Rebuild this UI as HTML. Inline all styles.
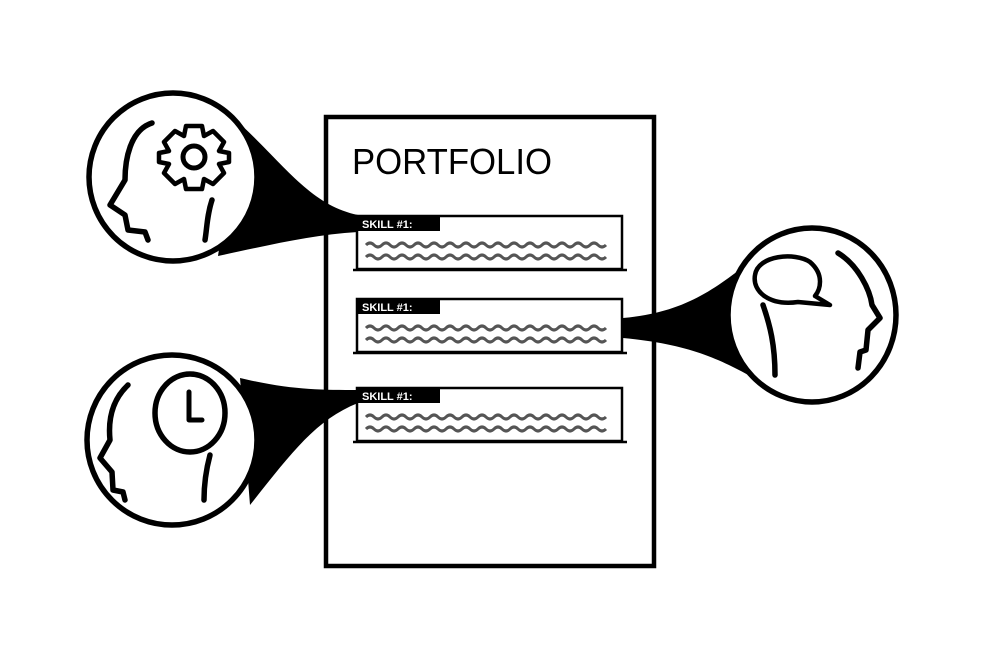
<!DOCTYPE html>
<html><head><meta charset="utf-8"><style>
html,body{margin:0;padding:0;background:#fff;width:1000px;height:667px;overflow:hidden}
</style></head><body>
<svg width="1000" height="667" viewBox="0 0 1000 667" xmlns="http://www.w3.org/2000/svg">
<defs>
<path id="wave" d="M0 0 q4 -4 8 0 t8 0 t8 0 t8 0 t8 0 t8 0 t8 0 t8 0 t8 0 t8 0 t8 0 t8 0 t8 0 t8 0 t8 0 t8 0 t8 0 t8 0 t8 0 t8 0 t8 0 t8 0 t8 0 t8 0 t8 0 t8 0 t8 0 t8 0 t8 0 t8 0" fill="none" stroke="#555" stroke-width="3"/>
</defs>
<rect x="326" y="117" width="328" height="449" fill="#fff" stroke="#000" stroke-width="4.5"/>
<text x="352" y="174" font-family="Liberation Sans, sans-serif" font-size="36" textLength="200" lengthAdjust="spacingAndGlyphs" fill="#000">PORTFOLIO</text>
<!-- cones -->
<path d="M238 122 C285 165 310 205 358 215 L358 232 C310 235 270 245 218 256 Z" fill="#000"/>
<path d="M240 378 C290 390 320 390 358 390 L358 403 C315 420 290 455 250 505 Z" fill="#000"/>
<path d="M762 252 C720 285 690 312 623 318 L623 338 C700 345 730 365 772 388 Z" fill="#000"/>
<g stroke="#000" stroke-width="2.5" fill="none">
<rect x="357" y="216" width="265" height="53"/>
<rect x="357" y="299" width="265" height="53"/>
<rect x="357" y="388" width="265" height="53"/>
<line x1="353" y1="270" x2="627" y2="270"/>
<line x1="353" y1="353" x2="627" y2="353"/>
<line x1="353" y1="442" x2="627" y2="442"/>
</g>
<g font-family="Liberation Sans, sans-serif" font-size="11" font-weight="bold" fill="#fff">
<rect x="357" y="216" width="83" height="15" fill="#000"/><text x="362" y="228">SKILL #1:</text>
<rect x="357" y="299" width="83" height="15" fill="#000"/><text x="362" y="311">SKILL #1:</text>
<rect x="357" y="388" width="83" height="15" fill="#000"/><text x="362" y="400">SKILL #1:</text>
</g>
<use href="#wave" x="366" y="245"/><use href="#wave" x="366" y="257"/>
<use href="#wave" x="366" y="328"/><use href="#wave" x="366" y="340"/>
<use href="#wave" x="366" y="417"/><use href="#wave" x="366" y="429"/>
<g fill="#fff" stroke="#000" stroke-width="5.5">
<circle cx="173" cy="177" r="84"/>
<circle cx="172" cy="440" r="85"/>
<ellipse cx="812" cy="315" rx="84" ry="87"/>
</g>
<g fill="none" stroke="#000" stroke-width="5.5" stroke-linecap="round" stroke-linejoin="round">
<path d="M152 123 C130 130 125 160 125 180 L110 205 L125 215 L128 230 L145 232 L148 240"/>
<path d="M212 200 C207 215 207 228 205 240"/>
<path d="M128 385 C112 400 108 420 110 440 L100 458 L112 472 L113 490 L123 492 L125 500"/>
<path d="M210 455 C206 470 204 485 204 500"/>
<path d="M838 253 C858 265 870 290 872 305 L880 318 L868 330 L866 350 L860 352 L858 368"/>
<path d="M763 305 C770 325 775 345 775 375"/>
<circle cx="194" cy="157" r="11" stroke-width="5"/>
<path d="M186 126 L202 126 L204 136 L213 131 L224 142 L219 151 L229 153 L229 162 L219 164 L224 173 L213 184 L204 179 L202 189 L186 189 L184 179 L175 184 L164 173 L169 164 L159 162 L159 153 L169 151 L164 142 L175 131 L184 136 Z" stroke-width="4.5"/>
<ellipse cx="190" cy="413" rx="35" ry="39"/>
<path d="M189 392 L189 420 L202 420" stroke-width="5"/>
<path d="M798 302 C770 306 752 292 755 275 C758 255 795 252 810 262 C825 275 820 290 815 296 L830 305 Z" stroke-width="4.5"/>
</g>
</svg>
</body></html>
